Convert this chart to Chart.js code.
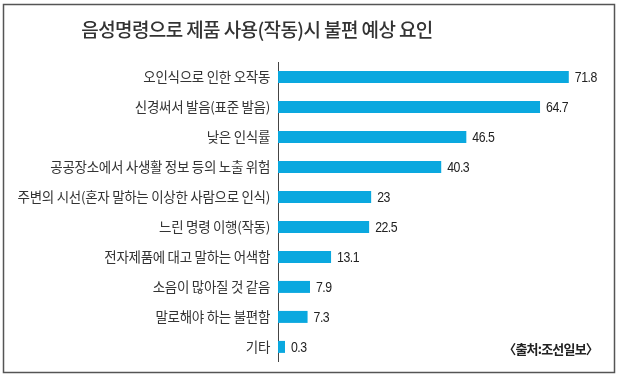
<!DOCTYPE html>
<html><head><meta charset="utf-8">
<script src="https://cdn.jsdelivr.net/npm/chart.js@4/dist/chart.umd.min.js"></script>
<style>html,body{margin:0;padding:0;background:#fff}#wrap{width:620px;height:378px;position:relative}</style>
</head><body><div id="wrap"><canvas id="c" width="620" height="378"></canvas></div>
<script>
const titleText = '음성명령으로 제품 사용(작동)시 불편 예상 요인';
const sourceText = '〈출처:조선일보〉';
const categories = [
  '오인식으로 인한 오작동',
  '신경써서 발음(표준 발음)',
  '낮은 인식률',
  '공공장소에서 사생활 정보 등의 노출 위험',
  '주변의 시선(혼자 말하는 이상한 사람으로 인식)',
  '느린 명령 이행(작동)',
  '전자제품에 대고 말하는 어색함',
  '소음이 많아질 것 같음',
  '말로해야 하는 불편함',
  '기타'
];
const values = [71.8, 64.7, 46.5, 40.3, 23, 22.5, 13.1, 7.9, 7.3, 0.3];
const valueLabels = ['71.8', '64.7', '46.5', '40.3', '23', '22.5', '13.1', '7.9', '7.3', '0.3'];

const KR = "'Noto Sans CJK KR', 'Noto Sans', sans-serif";

const decor = {
  id: 'decor',
  beforeDraw(chart) {
    const ctx = chart.ctx;
    ctx.save();
    ctx.fillStyle = '#fff';
    ctx.fillRect(0, 0, chart.width, chart.height);
    ctx.strokeStyle = '#555';
    ctx.lineWidth = 1.5;
    ctx.strokeRect(3.5, 4.5, 611, 368);
    ctx.restore();
    ctx.letterSpacing = '-0.3px';
  },
  afterDraw(chart) {
    const ctx = chart.ctx;
    ctx.save();
    ctx.letterSpacing = '-0.6px';
    ctx.fillStyle = '#333';
    ctx.font = "500 19px " + KR;
    ctx.textAlign = 'center';
    ctx.textBaseline = 'middle';
    ctx.fillText(titleText, 257, 30);
    ctx.letterSpacing = '-0.8px';
    ctx.font = "bold 13px " + KR;
    ctx.textAlign = 'right';
    ctx.fillStyle = '#222';
    ctx.fillText(sourceText, 598, 349);
    // value labels (horizontally condensed)
    const meta = chart.getDatasetMeta(0);
    ctx.font = "15px 'Liberation Sans', sans-serif";
    ctx.letterSpacing = '-0.6px';
    ctx.textAlign = 'left';
    ctx.fillStyle = '#222';
    const sx = 0.82;
    meta.data.forEach((bar, i) => {
      ctx.save();
      ctx.translate(bar.x + 6, bar.y + 1);
      ctx.scale(sx, 1);
      ctx.fillText(valueLabels[i], 0, 0);
      ctx.restore();
    });
    ctx.restore();
  }
};

new Chart(document.getElementById('c'), {
  type: 'bar',
  data: {
    labels: categories,
    datasets: [{
      data: values,
      backgroundColor: '#0aa8df',
      borderWidth: 0,
      barPercentage: 0.8,
      categoryPercentage: 0.5,
      minBarLength: 7
    }]
  },
  options: {
    indexAxis: 'y',
    responsive: false,
    animation: false,
    devicePixelRatio: 1,
    layout: { padding: { left: 0, right: 18, top: 62, bottom: 13 } },
    plugins: { legend: { display: false }, title: { display: false }, tooltip: { enabled: false } },
    scales: {
      x: {
        display: false,
        min: 0, max: 80
      },
      y: {
        afterFit(s) { s.width = 278; },
        grid: { display: false, drawTicks: false },
        border: { display: true, color: '#444', width: 1 },
        ticks: {
          padding: 8,
          color: '#333',
          font: { family: KR, size: 13.5 }
        }
      }
    }
  },
  plugins: [decor]
});
</script>
</body></html>
